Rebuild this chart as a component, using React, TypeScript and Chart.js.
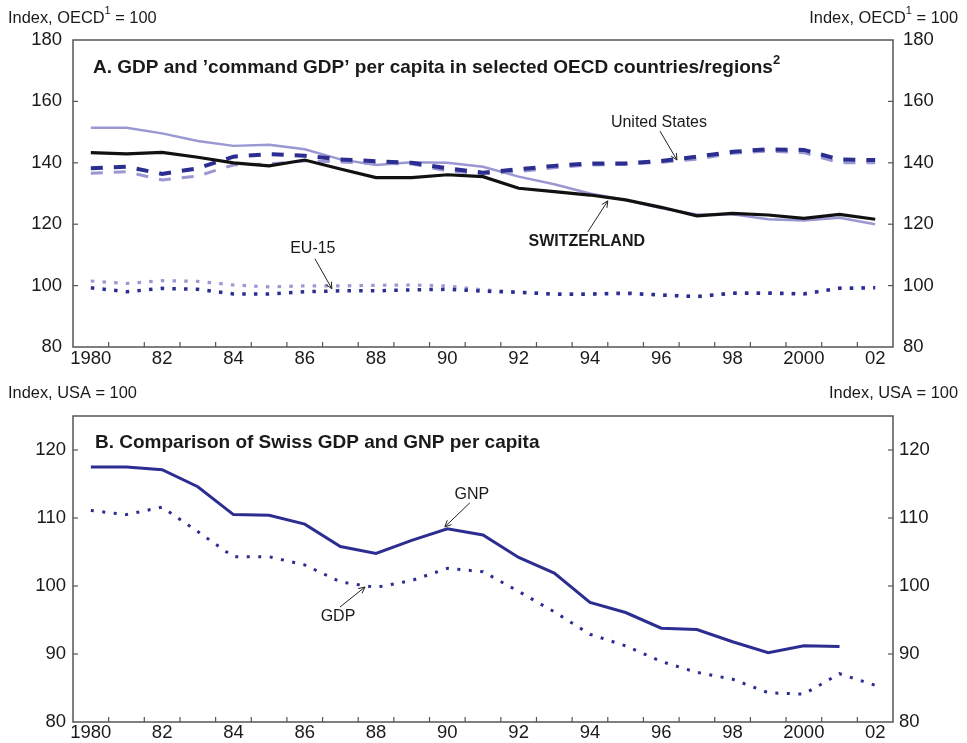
import React, { useEffect, useRef } from "react";
import { Chart, registerables } from "chart.js";

Chart.register(...registerables);

// ---- data ----
const years = [
  "1980", "1981", "1982", "1983", "1984", "1985", "1986", "1987", "1988", "1989", "1990", "1991",
  "1992", "1993", "1994", "1995", "1996", "1997", "1998", "1999", "2000", "2001", "2002",
];
const yearTickLabels = [
  "1980", "", "82", "", "84", "", "86", "", "88", "", "90", "",
  "92", "", "94", "", "96", "", "98", "", "2000", "", "02",
];

// Panel A: index, OECD = 100
const swissGdp = [143.3, 142.9, 143.4, 141.8, 140.0, 139.0, 140.9, 138.0, 135.2, 135.2, 136.1, 135.5, 131.7, 130.6, 129.5, 127.9, 125.5, 122.7, 123.5, 123.0, 121.9, 123.2, 121.6];
const swissCommandGdp = [151.4, 151.4, 149.6, 147.1, 145.5, 145.9, 144.4, 141.1, 139.3, 140.2, 140.0, 138.7, 135.5, 133.0, 130.0, 127.9, 125.2, 123.2, 123.2, 121.6, 121.2, 122.1, 120.0];
const usGdp = [138.2, 138.7, 136.4, 138.2, 142.0, 142.8, 142.3, 141.1, 140.5, 140.0, 138.2, 136.8, 137.9, 139.0, 139.8, 139.8, 140.6, 142.0, 143.6, 144.4, 144.2, 141.1, 140.9];
const usCommandGdp = [136.6, 137.1, 134.4, 135.7, 139.3, 139.6, 140.6, 140.3, 139.8, 139.6, 137.4, 136.4, 137.1, 138.4, 139.3, 139.5, 140.2, 141.2, 143.1, 143.8, 143.3, 140.0, 140.0];
const euGdp = [99.3, 98.0, 99.1, 98.8, 97.3, 97.3, 98.0, 98.3, 98.3, 98.6, 98.8, 98.2, 97.8, 97.2, 97.2, 97.5, 96.9, 96.4, 97.5, 97.5, 97.3, 99.1, 99.3];
const euCommandGdp = [101.5, 100.7, 101.6, 101.4, 100.2, 99.6, 99.9, 99.9, 100.1, 100.2, 99.9, 98.6, 97.9, 97.3, 97.3, 97.7, 97.0, 96.5, 97.6, 97.7, 97.4, 99.2, 99.4];

// Panel B: index, USA = 100
const swissGnp = [117.5, 117.5, 117.1, 114.6, 110.5, 110.4, 109.1, 105.8, 104.8, 106.7, 108.4, 107.5, 104.2, 101.9, 97.6, 96.1, 93.8, 93.6, 91.8, 90.2, 91.2, 91.1, null];
const swissGdpVsUs = [111.1, 110.5, 111.6, 108.0, 104.3, 104.3, 103.1, 100.6, 99.8, 100.8, 102.6, 102.1, 99.2, 96.2, 92.9, 91.2, 88.9, 87.3, 86.3, 84.3, 84.1, 87.1, 85.4];

// ---- styling ----
const FONT = '"Liberation Sans", Arial, Helvetica, sans-serif';
const TEXT = "#1a1a1a";
const AXIS = "#555555";
const NAVY = "#2b2e90";
const LILAC = "#9a97d2";
const BLACK = "#111111";

type Piece = { t: string; sup?: boolean };
type Note = { text: string; bold?: boolean; at: [number, number]; label: [number, number]; tail: [number, number] };

function drawPieces(ctx: CanvasRenderingContext2D, pieces: Piece[], x: number, y: number, size: number, weight: string, align: "left" | "right") {
  const sized = pieces.map((p) => {
    const s = p.sup ? Math.round(size * 0.68) : size;
    ctx.font = `${weight} ${s}px ${FONT}`;
    return { ...p, s, w: ctx.measureText(p.t).width };
  });
  const total = sized.reduce((acc, p) => acc + p.w, 0);
  let cx = align === "left" ? x : x - total;
  ctx.fillStyle = TEXT;
  ctx.textAlign = "left";
  ctx.textBaseline = "middle";
  for (const p of sized) {
    ctx.font = `${weight} ${p.s}px ${FONT}`;
    ctx.fillText(p.t, cx, p.sup ? y - size * 0.42 : y);
    cx += p.w;
  }
}

function line(ctx: CanvasRenderingContext2D, x1: number, y1: number, x2: number, y2: number) {
  ctx.beginPath();
  ctx.moveTo(x1, y1);
  ctx.lineTo(x2, y2);
  ctx.stroke();
}

function makeDecor(axisLabel: Piece[], title: Piece[], titlePos: [number, number], headerY: number, notes: Note[]) {
  return {
    id: "decor",
    afterDraw(chart: any) {
      const { ctx, chartArea: a, scales } = chart;
      ctx.save();
      // frame
      ctx.strokeStyle = AXIS;
      ctx.lineWidth = 1.5;
      ctx.strokeRect(a.left, a.top, a.right - a.left, a.bottom - a.top);
      // inward y ticks on both sides
      ctx.lineWidth = 1.2;
      const ys = scales.y;
      ys.ticks.forEach((t: any) => {
        const py = ys.getPixelForValue(t.value);
        if (py <= a.top + 1 || py >= a.bottom - 1) return;
        line(ctx, a.left, py, a.left + 5, py);
        line(ctx, a.right, py, a.right - 5, py);
      });
      // inward x ticks between years
      const xs = scales.x;
      const n = xs.getLabels().length;
      for (let i = 1; i < n; i++) {
        const px = (xs.getPixelForValue(i - 1) + xs.getPixelForValue(i)) / 2;
        line(ctx, px, a.bottom, px, a.bottom - 5);
      }
      // axis captions
      drawPieces(ctx, axisLabel, 8, headerY, 16.4, "normal", "left");
      drawPieces(ctx, axisLabel, 958, headerY, 16.4, "normal", "right");
      // panel title
      drawPieces(ctx, title, titlePos[0], titlePos[1], 19, "bold", "left");
      // labelled arrows
      ctx.strokeStyle = "#222";
      ctx.lineWidth = 1;
      for (const nt of notes) {
        const tx = xs.getPixelForValue(nt.at[0]);
        const ty = ys.getPixelForValue(nt.at[1]);
        const sx = tx + nt.tail[0];
        const sy = ty + nt.tail[1];
        line(ctx, sx, sy, tx, ty);
        const ang = Math.atan2(ty - sy, tx - sx);
        const hl = 7;
        for (const d of [-0.45, 0.45]) {
          line(ctx, tx, ty, tx - hl * Math.cos(ang + d), ty - hl * Math.sin(ang + d));
        }
        ctx.font = `${nt.bold ? "bold" : "normal"} 16px ${FONT}`;
        ctx.fillStyle = TEXT;
        ctx.textAlign = "center";
        ctx.textBaseline = "middle";
        ctx.fillText(nt.text, tx + nt.label[0], ty + nt.label[1]);
      }
      ctx.restore();
    },
  };
}

function makeConfig(opts: {
  datasets: any[];
  min: number;
  max: number;
  step: number;
  top: number;
  xHeight: number;
  xPad: number;
  labelPad: number;
  plugin: any;
}) {
  const yTicks = {
    stepSize: opts.step,
    includeBounds: false,
    padding: opts.labelPad,
    color: TEXT,
    font: { family: FONT, size: 18.5 },
  };
  const noGrid = { display: false, drawTicks: false };
  return {
    type: "line" as const,
    data: { labels: years, datasets: opts.datasets },
    plugins: [opts.plugin],
    options: {
      responsive: false,
      animation: false as const,
      devicePixelRatio: 1,
      layout: { padding: { top: opts.top, left: 0, right: 0, bottom: 0 } },
      plugins: { legend: { display: false }, tooltip: { enabled: false } },
      elements: { point: { radius: 0 }, line: { tension: 0 } },
      scales: {
        x: {
          type: "category" as const,
          offset: true,
          grid: noGrid,
          border: { display: false },
          ticks: {
            autoSkip: false,
            maxRotation: 0,
            padding: opts.xPad,
            color: TEXT,
            font: { family: FONT, size: 18.5, lineHeight: 1 },
            callback: (_v: any, i: number) => yearTickLabels[i],
          },
          afterFit: (s: any) => {
            s.height = opts.xHeight;
          },
        },
        y: {
          position: "left" as const,
          min: opts.min,
          max: opts.max,
          grid: noGrid,
          border: { display: false },
          ticks: yTicks,
          afterFit: (s: any) => {
            s.width = 73;
          },
        },
        y2: {
          position: "right" as const,
          min: opts.min,
          max: opts.max,
          grid: noGrid,
          border: { display: false },
          ticks: { ...yTicks, padding: opts.labelPad - 1 },
          afterFit: (s: any) => {
            s.width = 74;
          },
        },
      },
    },
  };
}

const DASH = [12, 11];
const DOTS = [3.5, 8.2];

function panelA() {
  return makeConfig({
    min: 80,
    max: 180,
    step: 20,
    top: 40,
    xHeight: 31,
    xPad: 3,
    labelPad: 11,
    datasets: [
      { label: "Switzerland GDP", data: swissGdp, borderColor: BLACK, borderWidth: 3.2 },
      { label: "United States GDP", data: usGdp, borderColor: NAVY, borderWidth: 4, borderDash: DASH },
      { label: "EU-15 GDP", data: euGdp, borderColor: NAVY, borderWidth: 3.5, borderDash: DOTS },
      { label: "Switzerland command GDP", data: swissCommandGdp, borderColor: LILAC, borderWidth: 2.4 },
      { label: "United States command GDP", data: usCommandGdp, borderColor: LILAC, borderWidth: 3, borderDash: DASH },
      { label: "EU-15 command GDP", data: euCommandGdp, borderColor: LILAC, borderWidth: 3.2, borderDash: DOTS },
    ],
    plugin: makeDecor(
      [{ t: "Index, OECD" }, { t: "1", sup: true }, { t: " = 100" }],
      [{ t: "A. GDP and \u2019command GDP\u2019 per capita in selected OECD countries/regions" }, { t: "2", sup: true }],
      [93, 68],
      18,
      [
        { text: "United States", at: [16.44, 140.9], label: [-18, -37], tail: [-17, -29] },
        { text: "SWITZERLAND", bold: true, at: [14.5, 127.6], label: [-21, 41], tail: [-20, 31] },
        { text: "EU-15", at: [6.76, 99.0], label: [-19, -40], tail: [-17, -30] },
      ]
    ),
  });
}

function panelB() {
  return makeConfig({
    min: 80,
    max: 125,
    step: 10,
    top: 38,
    xHeight: 21,
    xPad: 2,
    labelPad: 7,
    datasets: [
      { label: "GNP", data: swissGnp, borderColor: NAVY, borderWidth: 3 },
      { label: "GDP", data: swissGdpVsUs, borderColor: NAVY, borderWidth: 3, borderDash: [3, 8.5] },
    ],
    plugin: makeDecor(
      [{ t: "Index, USA = 100" }],
      [{ t: "B. Comparison of Swiss GDP and GNP per capita" }],
      [95, 65],
      15,
      [
        { text: "GNP", at: [9.93, 108.7], label: [27, -32], tail: [25, -24] },
        { text: "GDP", at: [7.69, 99.85], label: [-27, 30], tail: [-25, 20] },
      ]
    ),
  });
}

export default function App() {
  const refA = useRef<HTMLCanvasElement>(null);
  const refB = useRef<HTMLCanvasElement>(null);

  useEffect(() => {
    const a = new Chart(refA.current as HTMLCanvasElement, panelA() as any);
    const b = new Chart(refB.current as HTMLCanvasElement, panelB() as any);
    return () => {
      a.destroy();
      b.destroy();
    };
  }, []);

  return (
    <div style={{ position: "fixed", left: 0, top: 0, width: 967, height: 743, background: "#ffffff" }}>
      <canvas ref={refA} width={967} height={378} style={{ position: "absolute", left: 0, top: 0, width: 967, height: 378 }} />
      <canvas ref={refB} width={967} height={365} style={{ position: "absolute", left: 0, top: 378, width: 967, height: 365 }} />
    </div>
  );
}
